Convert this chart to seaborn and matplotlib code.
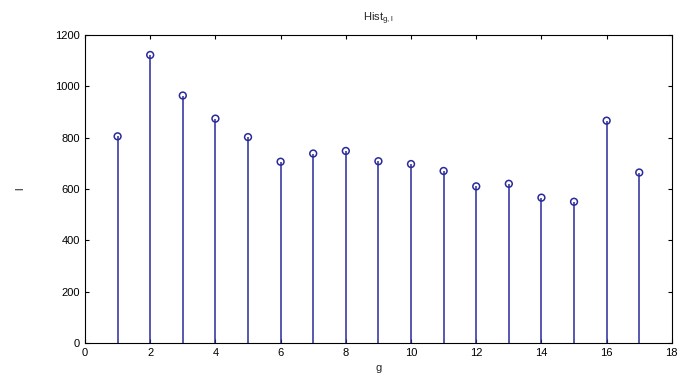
import numpy as np
import pandas as pd
import matplotlib
matplotlib.use("Agg")
import matplotlib.pyplot as plt
import seaborn as sns

g = [1, 2, 3, 4, 5, 6, 7, 8, 9, 10, 11, 12, 13, 14, 15, 16, 17]
counts = [805, 1122, 964, 874, 802, 706, 738, 748, 708, 697, 670, 610, 620, 566, 550, 866, 664]

df = pd.DataFrame({"g": g, "l": counts})

sns.set_style("ticks")
plt.rcParams["font.family"] = ["Liberation Sans", "DejaVu Sans"]
plt.rcParams["mathtext.fontset"] = "custom"
plt.rcParams["mathtext.rm"] = "Liberation Sans"

fig = plt.figure(figsize=(6.8, 3.76), dpi=100)
ax = fig.add_axes([0.125, 0.088, 0.863, 0.819])

stem_color = "#2a2a9a"
ax.vlines(df["g"], 0, df["l"], color=stem_color, linewidth=1.1)
sns.scatterplot(data=df, x="g", y="l", ax=ax, marker="o", s=24,
                facecolors="none", edgecolor=stem_color, linewidth=1.1, zorder=3)

ax.set_xlim(0, 18)
ax.set_ylim(0, 1200)
ax.set_xticks(np.arange(0, 19, 2))
ax.set_yticks(np.arange(0, 1201, 200))
ax.tick_params(direction="in", length=3, labelsize=8, top=True, right=True, colors="black")
for s in ax.spines.values():
    s.set_visible(True)
    s.set_color("black")
    s.set_linewidth(0.8)

ax.set_title(r"Hist$_{\mathrm{g,l}}$", fontsize=8, pad=10)
ax.set_xlabel("g", fontsize=8, labelpad=4)
ax.set_ylabel("l", fontsize=8, labelpad=22)

fig.savefig("out.png", dpi=100)
